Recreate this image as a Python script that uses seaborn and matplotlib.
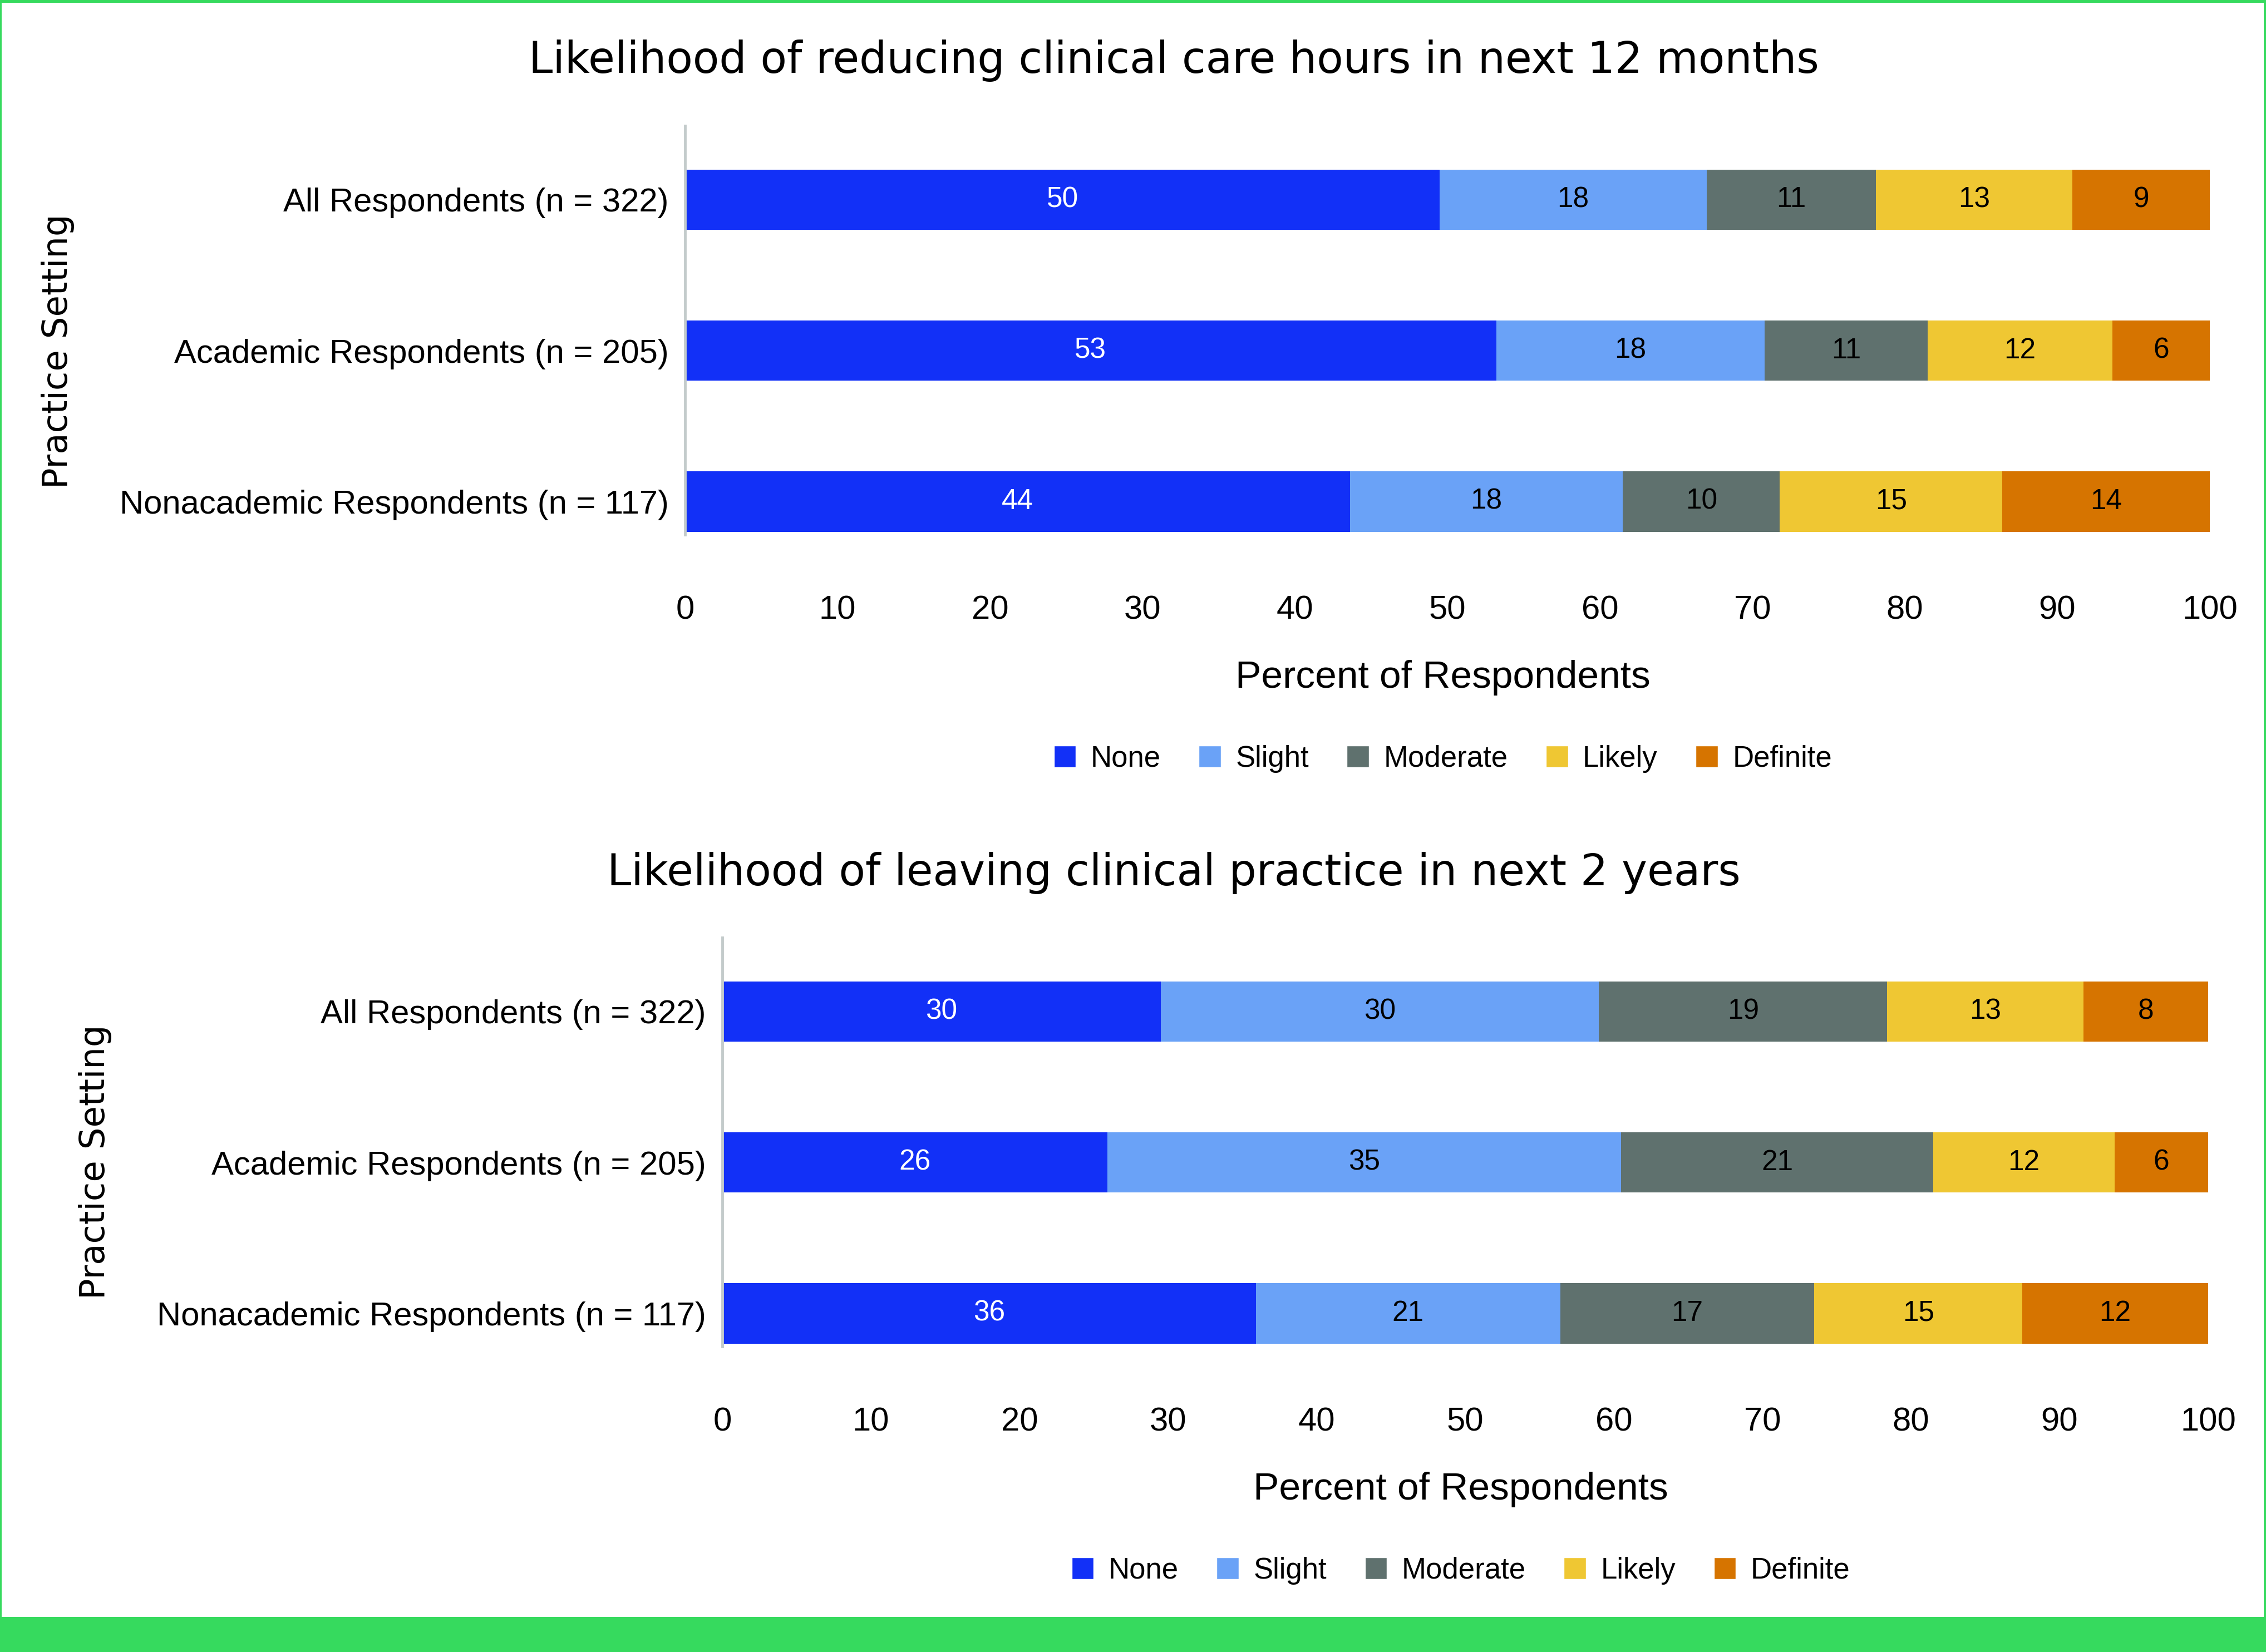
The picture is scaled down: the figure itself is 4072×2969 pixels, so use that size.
import numpy as np
import pandas as pd
import matplotlib.pyplot as plt
import seaborn as sns
from matplotlib.patches import Patch, Rectangle

sns.set_style("white")
plt.rcParams["font.family"] = ["Liberation Sans", "DejaVu Sans"]
plt.rcParams["text.color"] = "black"
plt.rcParams["xtick.color"] = "black"
plt.rcParams["ytick.color"] = "black"
plt.rcParams["axes.labelcolor"] = "black"

settings = ["All Respondents (n = 322)", "Academic Respondents (n = 205)",
            "Nonacademic Respondents (n = 117)"]
levels = ["None", "Slight", "Moderate", "Likely", "Definite"]
level_colors = ["#1230F7", "#6AA2F7", "#5F716E", "#EFC733", "#D67400"]

# chart 1 - reducing clinical care hours (segment widths)
reduce_none = [49.5, 53.2, 43.6]
reduce_slight = [17.5, 17.6, 17.9]
reduce_moderate = [11.1, 10.7, 10.3]
reduce_likely = [12.9, 12.1, 14.6]
reduce_definite = [9.0, 6.4, 13.6]
# printed labels (rounded in the source)
reduce_labels = [[50, 18, 11, 13, 9], [53, 18, 11, 12, 6], [44, 18, 10, 15, 14]]

# chart 2 - leaving clinical practice
leave_none = [29.5, 25.9, 35.9]
leave_slight = [29.5, 34.6, 20.5]
leave_moderate = [19.4, 21.0, 17.1]
leave_likely = [13.2, 12.2, 14.0]
leave_definite = [8.4, 6.3, 12.5]
leave_labels = [[30, 30, 19, 13, 8], [26, 35, 21, 12, 6], [36, 21, 17, 15, 12]]

W, H = 4072, 2969
fig = plt.figure(figsize=(W / 100, H / 100), dpi=100)
fig.patch.set_facecolor("white")

GREEN = "#36DA5E"
SPINE = "#C3CBCB"


def draw_panel(ax, vals, labels, title, title_y, ylabel_x, ylabel_y):
    df = pd.DataFrame(dict(zip(levels, vals)), index=settings)
    cum = df.cumsum(axis=1)
    # draw cumulative bars from the longest to the shortest -> stacked look
    for lvl, col in reversed(list(zip(levels, level_colors))):
        d = pd.DataFrame({"setting": settings, "cum": cum[lvl].values})
        sns.barplot(data=d, x="cum", y="setting", order=settings, color=col,
                    saturation=1, width=0.4, linewidth=0, errorbar=None,
                    orient="h", ax=ax)
    for i, s in enumerate(settings):
        for j, lvl in enumerate(levels):
            xc = cum.loc[s, lvl] - df.loc[s, lvl] / 2
            ax.text(xc, i, str(labels[i][j]), ha="center", va="center",
                    fontsize=37, color="white" if lvl == "None" else "black")
    ax.set_xlim(0, 100)
    ax.set_ylim(2.22, -0.49)
    ax.set_xticks(range(0, 101, 10))
    ax.tick_params(axis="x", length=0, pad=78, labelsize=43)
    ax.tick_params(axis="y", length=0, pad=21, labelsize=43)
    sns.despine(ax=ax, left=False, bottom=True)
    ax.spines["left"].set_color(SPINE)
    ax.spines["left"].set_linewidth(3.5)
    ax.set_ylabel("")
    ax.set_xlabel("Percent of Respondents", fontsize=50)
    ax.xaxis.set_label_coords(0.497, -257 / 735)
    ax.xaxis.label.set_va("center")
    handles = [Patch(facecolor=c, label=l) for l, c in zip(levels, level_colors)]
    ax.legend(handles=handles, loc="center", bbox_to_anchor=(0.497, -0.548),
              ncol=5, frameon=False, fontsize=38, handlelength=0.75,
              handleheight=0.75, handletextpad=0.5, columnspacing=1.3)
    fig.text(0.518, title_y, title, ha="center", va="center", fontsize=56,
             family="DejaVu Sans")
    fig.text(ylabel_x, ylabel_y, "Practice Setting", rotation=90, ha="center",
             va="center", fontsize=45, family="DejaVu Sans")


ax1 = fig.add_axes([1231 / W, 1 - 961 / H, 2740 / W, 735 / H])
ax2 = fig.add_axes([1298 / W, 1 - 2420 / H, 2670 / W, 735 / H])

draw_panel(ax1,
           [reduce_none, reduce_slight, reduce_moderate, reduce_likely, reduce_definite],
           reduce_labels, "Likelihood of reducing clinical care hours in next 12 months",
           1 - 109 / H, 104 / W, 1 - 631 / H)
draw_panel(ax2,
           [leave_none, leave_slight, leave_moderate, leave_likely, leave_definite],
           leave_labels, "Likelihood of leaving clinical practice in next 2 years",
           1 - 1569 / H, 171 / W, 1 - 2088 / H)

# green frame and bottom band
for r in [(0, 0, 1, 63 / H), (0, 0, 3 / W, 1), (1 - 4 / W, 0, 4 / W, 1),
          (0, 1 - 5 / H, 1, 5 / H)]:
    fig.patches.append(Rectangle(r[:2], r[2], r[3], transform=fig.transFigure,
                                 facecolor=GREEN, edgecolor="none", zorder=10))

fig.savefig("out.png", dpi=100)
